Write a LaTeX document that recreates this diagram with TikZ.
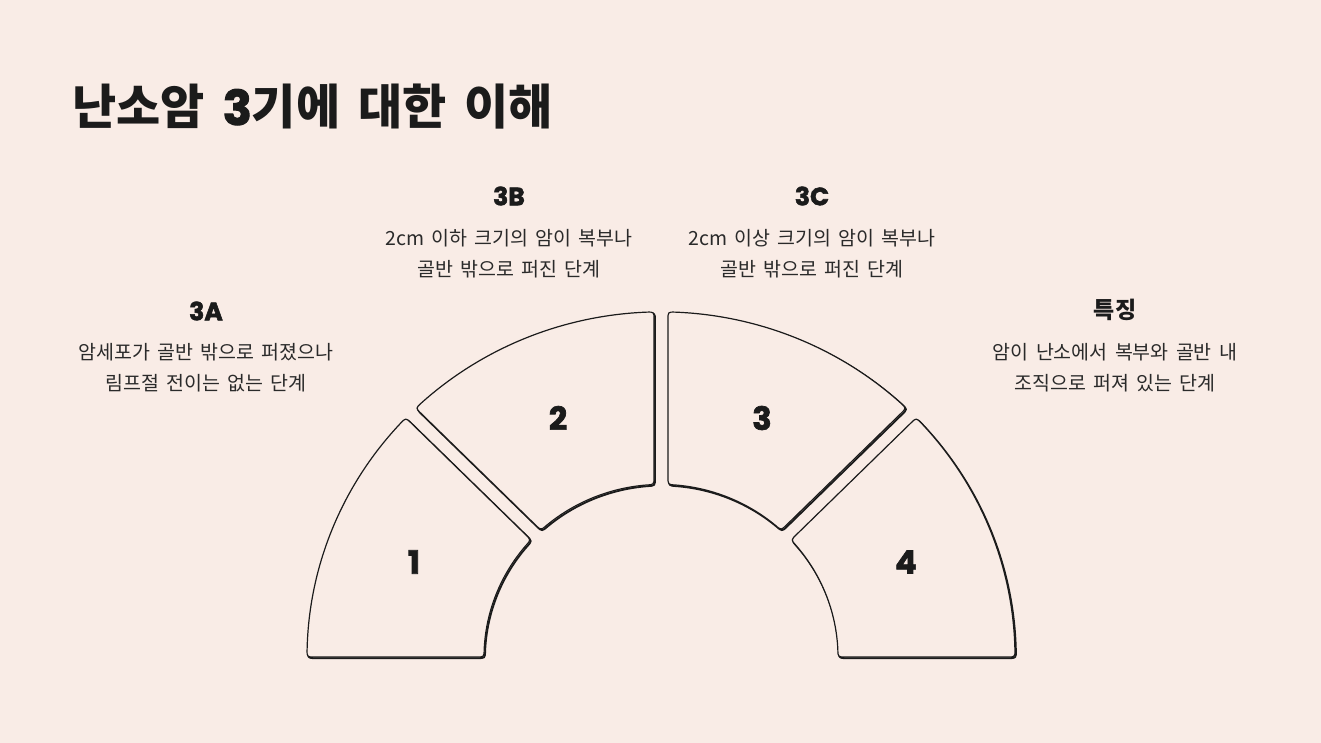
\documentclass[tikz,border=0pt]{standalone}
\usepackage{fontspec}
\setmainfont{Noto Sans CJK KR}
\newfontfamily\descfont{Noto Sans CJK KR}[WordSpace=2.3]
\newfontfamily\titlefont{Noto Sans CJK KR}[WordSpace=1.65]
\newfontfamily\numfont{Poppins}[BoldFeatures={FakeBold=2.2}]
\usetikzlibrary{calc}
\definecolor{bg}{HTML}{F9ECE6}
\definecolor{ink}{HTML}{1B1B1B}
\definecolor{txt}{HTML}{2A2A2A}
\tikzset{
  segmain/.style={draw=ink, line width=1.2pt, fill=bg, line join=round},
  segshadow/.style={draw=ink, line width=1.8pt, line join=round},
  numlbl/.style={font=\numfont\bfseries\fontsize{32}{32}\selectfont, text=ink, inner sep=0pt},
  stagehead/.style={font=\numfont\bfseries\fontsize{25}{25}\selectfont, text=ink, inner sep=0pt},
  korhead/.style={font=\bfseries\fontsize{23}{23}\selectfont, text=ink, inner sep=0pt},
  desc/.style={font=\descfont\fontsize{19.5}{31}\selectfont, text=txt, align=center, inner sep=0pt},
  titlestyle/.style={font=\titlefont\bfseries\fontsize{48}{52}\selectfont, text=ink, inner sep=0pt, anchor=west}
}
% #1 = start angle, #2 = end angle, #3/#4 = half gap at start/end edge, #5 = style
\newcommand\ringseg[5]{%
  \pgfmathsetmacro\sAo{#1+asin(#3/354)}%
  \pgfmathsetmacro\sAi{#1+asin(#3/177)}%
  \pgfmathsetmacro\sBo{#2-asin(#4/354)}%
  \pgfmathsetmacro\sBi{#2-asin(#4/177)}%
  \pgfmathsetmacro\sAoc{\sAo+1.2}%
  \pgfmathsetmacro\sBoc{\sBo-1.2}%
  \pgfmathsetmacro\sAic{\sAi+2.4}%
  \pgfmathsetmacro\sBic{\sBi-2.4}%
  \pgfmathsetmacro\sAr{#1+180}%
  \pgfmathsetmacro\sBr{#2+180}%
  \path[#5] ($(\sAo:354)+(\sAr:7.5)$)
    .. controls (\sAo:354) .. (\sAoc:354)
    arc[start angle=\sAoc, end angle=\sBoc, radius=354]
    .. controls (\sBo:354) .. ($(\sBo:354)+(\sBr:7.5)$)
    -- ($(\sBi:177)+(#2:7.5)$)
    .. controls (\sBi:177) .. (\sBic:177)
    arc[start angle=\sBic, end angle=\sAic, radius=177]
    .. controls (\sAi:177) .. ($(\sAi:177)+(#1:7.5)$)
    -- cycle;%
}
\begin{document}
\begin{tikzpicture}[x=1pt,y=1pt]
\fill[bg] (0,0) rectangle (1321,743);
\useasboundingbox (0,0) rectangle (1321,743);

% title
\node[titlestyle] (title) at (72,636) {난소암 {\numfont\bfseries\fontsize{48}{52}\selectfont 3}기에 대한 이해};

% ring segments
\begin{scope}[shift={(661,86)}, yscale=0.975]
  \begin{scope}[shift={(1.0,-1.2)}]
    \ringseg{135}{180}{7}{0}{segshadow}
    \ringseg{90}{135}{7}{7}{segshadow}
    \ringseg{45}{90}{7}{7}{segshadow}
    \ringseg{0}{45}{0}{7}{segshadow}
  \end{scope}
  \ringseg{135}{180}{7}{0}{segmain}
  \ringseg{90}{135}{7}{7}{segmain}
  \ringseg{45}{90}{7}{7}{segmain}
  \ringseg{0}{45}{0}{7}{segmain}
\end{scope}

% segment numbers
\node[numlbl] (n1) at (414,181) {1};
\node[numlbl] (n2) at (558,325) {2};
\node[numlbl] (n3) at (762,325) {3};
\node[numlbl] (n4) at (906,181) {4};

% stage labels
\node[stagehead] (h3a) at (206,432) {3A};
\node[desc] (d3a) at (206,375.5) {암세포가 골반 밖으로 퍼졌으나\\림프절 전이는 없는 단계};

\node[stagehead] (h3b) at (509,547) {3B};
\node[desc] (d3b) at (509,489) {2cm 이하 크기의 암이 복부나\\골반 밖으로 퍼진 단계};

\node[stagehead] (h3c) at (812,547) {3C};
\node[desc] (d3c) at (812,489) {2cm 이상 크기의 암이 복부나\\골반 밖으로 퍼진 단계};

\node[korhead] (hfe) at (1115,433) {특징};
\node[desc] (dfe) at (1115,375.5) {암이 난소에서 복부와 골반 내\\조직으로 퍼져 있는 단계};
\end{tikzpicture}
\end{document}
